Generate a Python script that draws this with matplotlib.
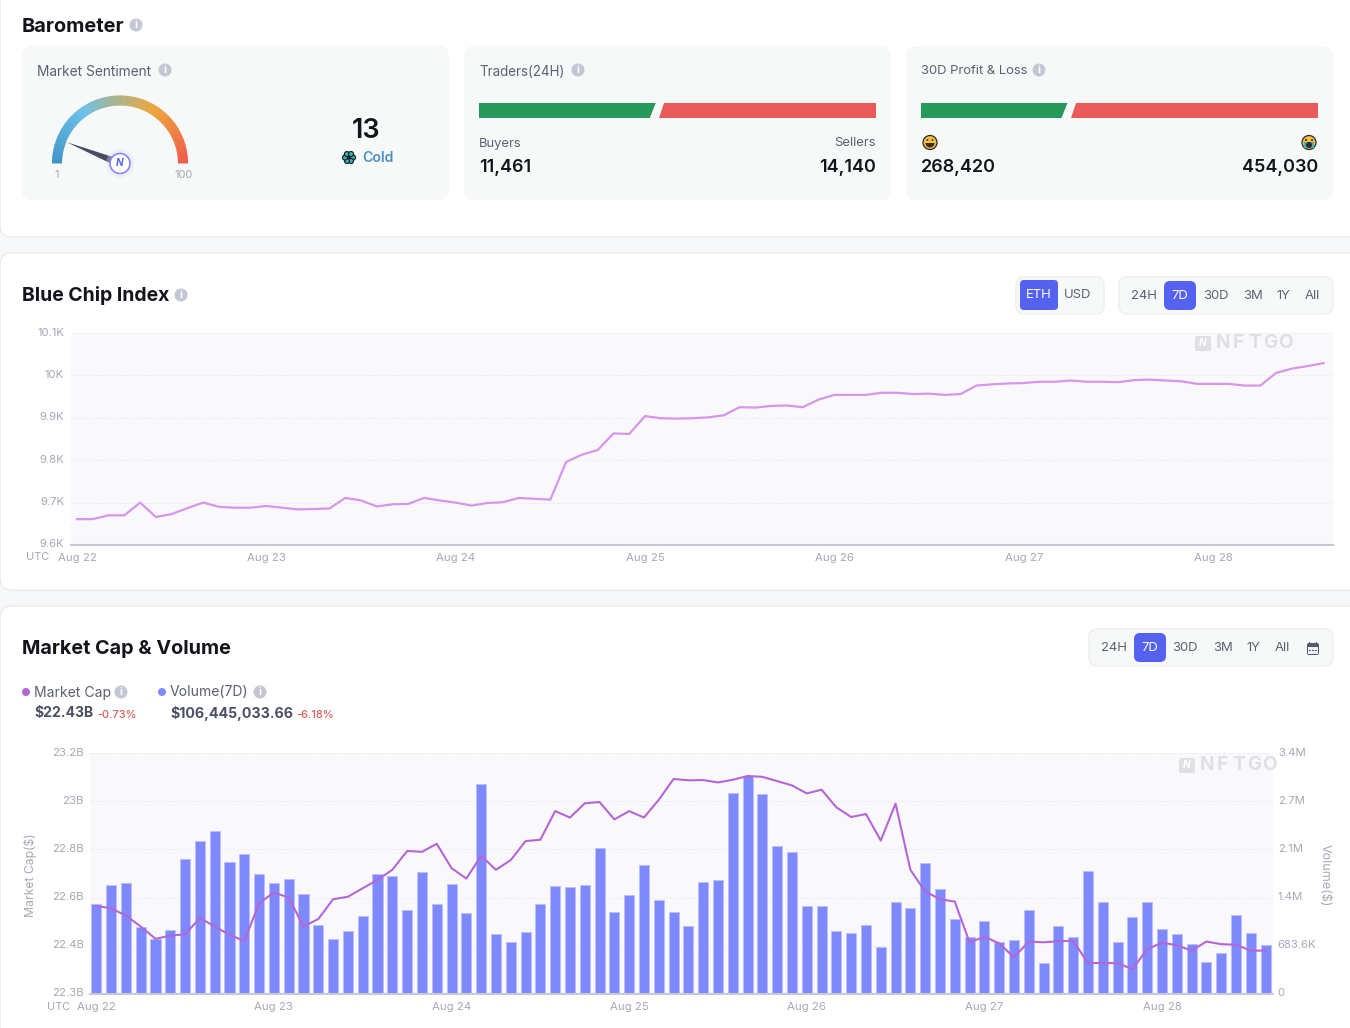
import numpy as np
import matplotlib
matplotlib.use('Agg')
import matplotlib.pyplot as plt
from matplotlib.colors import LinearSegmentedColormap
from matplotlib.patches import Circle, FancyBboxPatch, Polygon, Rectangle, Wedge
from matplotlib.transforms import ScaledTranslation

plt.rcParams['font.family'] = ['Inter', 'DejaVu Sans']

# data
dayLabels = ['Aug 22', 'Aug 23', 'Aug 24', 'Aug 25', 'Aug 26', 'Aug 27', 'Aug 28']
sentiment = 13
traders = [11461, 14140]
profitLoss = [268420, 454030]

blueChip = [9661, 9661, 9670, 9670, 9700, 9666, 9673, 9687, 9700, 9690,
            9688, 9688, 9692, 9688, 9684, 9685, 9686, 9711, 9705, 9691,
            9696, 9697, 9711, 9705, 9700, 9693, 9699, 9701, 9711, 9709,
            9707, 9796, 9813, 9824, 9863, 9862, 9904, 9899, 9898, 9899,
            9901, 9906, 9925, 9924, 9928, 9929, 9925, 9943, 9954, 9954,
            9954, 9959, 9959, 9956, 9957, 9954, 9956, 9976, 9979, 9981,
            9982, 9985, 9985, 9988, 9985, 9985, 9984, 9989, 9990, 9988,
            9986, 9980, 9980, 9980, 9976, 9976, 10006, 10016, 10022, 10029]
blueTicks = [9600, 9700, 9800, 9900, 10000, 10100]
blueTickLabels = ['9.6K', '9.7K', '9.8K', '9.9K', '10K', '10.1K']

volumeK = [1283, 1543, 1581, 956, 781, 914, 1917, 2168, 2315, 1870,
           1984, 1709, 1572, 1628, 1425, 980, 786, 890, 1103, 1704,
           1671, 1198, 1728, 1273, 1567, 1150, 2973, 852, 743, 885,
           1273, 1529, 1520, 1548, 2064, 1160, 1401, 1832, 1330, 1169,
           970, 1595, 1614, 2850, 3096, 2840, 2092, 2021, 1255, 1245,
           895, 871, 975, 672, 1311, 1221, 1865, 1486, 1060, 810,
           1032, 739, 762, 1198, 440, 970, 805, 1747, 1302, 734,
           1089, 1311, 923, 857, 705, 450, 587, 1117, 866, 696]
marketCapB = [22.629, 22.620, 22.593, 22.552, 22.506, 22.518, 22.523, 22.584, 22.552, 22.521,
              22.498, 22.639, 22.679, 22.660, 22.552, 22.580, 22.654, 22.663, 22.695, 22.726,
              22.764, 22.834, 22.831, 22.861, 22.770, 22.731, 22.816, 22.764, 22.800, 22.871,
              22.876, 22.983, 22.959, 23.012, 23.017, 22.952, 22.983, 22.959, 23.025, 23.103,
              23.098, 23.099, 23.090, 23.100, 23.114, 23.111, 23.095, 23.079, 23.049, 23.063,
              22.997, 22.961, 22.972, 22.873, 23.011, 22.764, 22.683, 22.654, 22.645, 22.493,
              22.514, 22.489, 22.437, 22.496, 22.493, 22.497, 22.499, 22.415, 22.416, 22.415,
              22.393, 22.467, 22.492, 22.482, 22.462, 22.496, 22.486, 22.484, 22.462, 22.462]
capTicks = [22.3, 22.48, 22.66, 22.84, 23.02, 23.2]
capTickLabels = ['22.3B', '22.4B', '22.6B', '22.8B', '23B', '23.2B']
volTicks = [0, 683.6, 1367.2, 2050.8, 2734.4, 3418]
volTickLabels = ['0', '683.6K', '1.4M', '2.1M', '2.7M', '3.4M']

rangeNames = ['24H', '7D', '30D', '3M', '1Y', 'All']

# colours
pageColor = '#f7f8f9'
cardColor = '#f7f9f9'
plotColor = '#f9f9fb'
gridColor = '#ecedf1'
accent = '#5562f0'
dark = '#14151c'
grey = '#5d6072'
tickColor = '#a5a8b6'
barColor = '#7e8afb'
capColor = '#b566d6'
chipColor = '#d795ec'
markColor = '#e0e0e4'

W, H = 1350, 1028
fig = plt.figure(figsize=(W / 100, H / 100), dpi=100, facecolor=pageColor)


# whole figure axes working in pixels, y downwards
def pixelAxes(zorder):
    a = fig.add_axes([0, 0, 1, 1], zorder=zorder)
    a.set_xlim(0, W)
    a.set_ylim(H, 0)
    a.axis('off')
    return a


bg = pixelAxes(0)
front = pixelAxes(5)


def txt(x, y, s, px=14, color=dark, ha='left', weight='normal', ax=None, **kw):
    ax = bg if ax is None else ax
    return ax.text(x, y + 1.5, s, fontsize=px * 0.72, color=color, ha=ha, va='center',
                   fontweight=weight, **kw)


def box(x0, y0, x1, y1, r, fc, ec='none', zorder=1, ax=None):
    ax = bg if ax is None else ax
    p = FancyBboxPatch((x0 + r, y0 + r), x1 - x0 - 2 * r, y1 - y0 - 2 * r,
                       boxstyle='round,pad=%d,rounding_size=%d' % (r, r),
                       fc=fc, ec=ec, lw=0.8, zorder=zorder)
    ax.add_patch(p)


def infoIcon(x, y, r=6.5):
    bg.add_patch(Circle((x, y), r, fc='#c4c6d3', ec='none', zorder=3))
    bg.text(x, y, 'i', fontsize=r * 1.15, color='white', ha='center', va='center',
            fontweight='bold', zorder=4)


def rangeGroup(x0, x1, y0, y1, labelX, activeX):
    box(x0, y0, x1, y1, 8, cardColor, '#e9ebee', zorder=2)
    box(activeX[0], y0 + 4, activeX[1], y1 - 4, 6, accent, zorder=3)
    for name, x in zip(rangeNames, labelX):
        color = 'white' if name == '7D' else grey
        txt(x, (y0 + y1) / 2 - 1, name, px=13, color=color, ha='center', zorder=4)


def watermark(x, y):
    box(x, y - 7, x + 16, y + 8, 2, markColor, ax=front)
    txt(x + 8, y - 1, 'N', px=10, color='white', ha='center', weight='bold', style='italic', ax=front)
    for i, letter in enumerate('NFTGO'):
        txt(x + 28 + i * 15.6, y - 1, letter, px=19, color=markColor, ha='center', weight='bold', ax=front)


def axesFromPixels(left, top, right, bottom):
    return fig.add_axes([left / W, 1 - bottom / H, (right - left) / W, (bottom - top) / H])


def styleAxis(ax):
    ax.set_facecolor(plotColor)
    for side in ['top', 'left', 'right']:
        ax.spines[side].set_visible(False)
    ax.spines['bottom'].set_color('#c8c9d3')
    ax.spines['bottom'].set_linewidth(1.5)
    ax.tick_params(length=0, labelsize=8.2, labelcolor=tickColor)
    ax.grid(axis='y', color=gridColor, lw=0.7, ls=(0, (3, 2)))
    ax.set_axisbelow(True)


# y tick labels sit slightly above their grid lines
def raiseLabels(ax):
    shift = ScaledTranslation(0, 1.5 / 100, fig.dpi_scale_trans)
    for label in ax.get_yticklabels():
        label.set_transform(label.get_transform() + shift)


# section cards
for cardTop, cardBottom in [(-30, 237), (253, 590), (606, 1060)]:
    box(0, cardTop, W + 30, cardBottom, 12, 'white', '#e8e9ec', zorder=0.5)

# Barometer
txt(22, 25, 'Barometer', px=20, weight='bold')
infoIcon(136, 25)
for x0 in [22, 464, 906]:
    box(x0, 46, x0 + 427, 200, 10, cardColor)

txt(37, 70, 'Market Sentiment', px=13.7, color=grey)
infoIcon(165, 70)
txt(479, 70, 'Traders(24H)', px=13.4, color=grey)
infoIcon(578, 70)
txt(921, 70, '30D Profit & Loss', px=13, color=grey)
infoIcon(1039, 70)

# gauge
cx, cy = 120, 163.5
gaugeMap = LinearSegmentedColormap.from_list(
    'gauge', [(0, '#3f95c4'), (0.3, '#6cc0ea'), (0.48, '#a9b48c'), (0.68, '#eda63b'), (1, '#ee5a4b')])
for i in range(180):
    bg.add_patch(Wedge((cx, cy), 68, 180 + i, 181.5 + i if i < 179 else 360, width=10,
                       fc=gaugeMap(i / 179), ec='none', zorder=2))
angle = np.pi * (sentiment - 1) / 99
tip = (cx - 57.5 * np.cos(angle), cy - 57.5 * np.sin(angle))
nx, ny = np.sin(angle) * 4, -np.cos(angle) * 4
bg.add_patch(Polygon([tip, (cx + nx, cy + ny), (cx - nx, cy - ny)], fc='#4a4c66', ec='none', zorder=3))
bg.add_patch(Circle((cx, cy), 14, fc='#d9dcff', ec='none', alpha=0.35, zorder=3))
bg.add_patch(Circle((cx, cy), 10, fc='white', ec='#8f86ea', lw=1.2, zorder=4))
txt(cx, cy - 1.5, 'N', px=10, color=accent, ha='center', weight='bold', style='italic', zorder=5)
txt(57, 174, '1', px=11, color=tickColor, ha='center')
txt(184, 174, '100', px=11, color=tickColor, ha='center')

txt(366, 129, str(sentiment), px=27, ha='center', weight='semibold')
for a in np.arange(0, 360, 60):
    sx = 349 + 4 * np.cos(np.radians(a))
    sy = 157.5 + 4 * np.sin(np.radians(a))
    bg.add_patch(Circle((sx, sy), 2.5, fc='#3fb6b8', ec='#15252c', lw=0.9, zorder=3))
bg.add_patch(Circle((349, 157.5), 1.6, fc='#15252c', ec='none', zorder=4))
txt(362, 156, 'Cold', px=14, color='#4a8fc0', weight='semibold')


# split bars
def splitBar(x0, x1, values):
    split = x0 + (x1 - x0) * values[0] / sum(values)
    bg.add_patch(Polygon([(x0, 103), (split - 1, 103), (split - 7, 118), (x0, 118)],
                         fc='#27995c', ec='none', zorder=2))
    bg.add_patch(Polygon([(split + 7, 103), (x1, 103), (x1, 118), (split + 2, 118)],
                         fc='#ea5a5b', ec='none', zorder=2))


splitBar(479, 876, traders)
splitBar(921, 1318, profitLoss)

txt(479, 142, 'Buyers', px=13, color=grey)
txt(876, 142, 'Sellers', px=13, color=grey, ha='right')
txt(479, 166, format(traders[0], ','), px=18, weight='semibold')
txt(876, 166, format(traders[1], ','), px=18, ha='right', weight='semibold')
txt(921, 166, format(profitLoss[0], ','), px=18, weight='semibold')
txt(1318, 166, format(profitLoss[1], ','), px=18, ha='right', weight='semibold')

# emoji faces
bg.add_patch(Circle((930, 142.5), 7, fc='#f6bd41', ec='#2b2b2b', lw=0.9, zorder=3))
bg.add_patch(Wedge((930, 143), 4.5, 0, 180, fc='#3a2a1c', ec='none', zorder=4))
for ex in [927.5, 932.5]:
    bg.add_patch(Circle((ex, 140), 0.9, fc='#2b2b2b', ec='none', zorder=4))
bg.add_patch(Circle((1309, 142.5), 7, fc='#f6bd41', ec='#2b2b2b', lw=0.9, zorder=3))
bg.add_patch(Rectangle((1304, 142), 10, 6, fc='#3fb6b8', ec='none', zorder=4))
bg.add_patch(Circle((1309, 145), 3, fc='#2b2b2b', ec='none', zorder=5))
for ex in [1306, 1312]:
    bg.add_patch(Circle((ex, 140), 1, fc='#2b2b2b', ec='none', zorder=5))

# Blue Chip Index
txt(22, 294, 'Blue Chip Index', px=19.4, weight='bold')
infoIcon(181, 295)
box(1016, 277, 1104, 314, 8, cardColor, '#e9ebee', zorder=2)
box(1020, 280, 1058, 310, 4, accent, zorder=3)
txt(1039, 294, 'ETH', px=13, color='white', ha='center', zorder=4)
txt(1078, 294, 'USD', px=13, color=grey, ha='center', zorder=4)
rangeGroup(1119, 1333, 277, 314, [1144, 1180, 1216, 1253, 1283, 1312], (1164, 1196))

ax1 = axesFromPixels(71, 333, 1333, 545)
styleAxis(ax1)
ax1.plot(np.arange(len(blueChip)), blueChip, color=chipColor, lw=1.6, solid_joinstyle='round')
ax1.set_xlim(-0.38, 79.6)
ax1.set_ylim(9600, 10100)
ax1.set_yticks(blueTicks, blueTickLabels)
ax1.set_xticks(np.arange(len(dayLabels)) * 12, dayLabels)
ax1.tick_params(axis='y', pad=5)
ax1.tick_params(axis='x', pad=6)
raiseLabels(ax1)
txt(38, 556, 'UTC', px=11, color=tickColor, ha='center')

# Market Cap & Volume
txt(22, 647, 'Market Cap & Volume', px=19.8, weight='bold')
rangeGroup(1089, 1333, 629, 666, [1114, 1150, 1185, 1223, 1253, 1282], (1134, 1166))
# calendar icon
box(1307, 643, 1319, 655, 2, '#55586e', zorder=4)
bg.add_patch(Rectangle((1308.3, 647), 9.4, 6.7, fc='#eef0f4', ec='none', zorder=5))
for kx in [1310, 1313, 1316]:
    bg.add_patch(Rectangle((kx - 0.6, 649.5), 1.2, 1.2, fc='#55586e', ec='none', zorder=6))
for kx in [1309.5, 1316.5]:
    bg.add_patch(Rectangle((kx - 0.6, 641.5), 1.2, 3, fc='#55586e', ec='none', zorder=5))

bg.add_patch(Circle((26, 692), 4, fc=capColor, ec='none', zorder=3))
txt(34, 691, 'Market Cap', px=14, color=grey)
infoIcon(121, 692)
txt(34, 712, '$22.43B', px=14, color='#4b4f63', weight='bold')
txt(97, 714, '-0.73%', px=11, color='#e05a5a', weight='medium')
bg.add_patch(Circle((162, 692), 4, fc=barColor, ec='none', zorder=3))
txt(170, 691, 'Volume(7D)', px=14, color=grey)
infoIcon(260, 692)
txt(170, 712, '$106,445,033.66', px=14.2, color='#4b4f63', weight='bold')
txt(296, 714, '-6.18%', px=11, color='#e05a5a', weight='medium')

ax2 = axesFromPixels(90, 753, 1273, 994)
styleAxis(ax2)
ax2.bar(np.arange(len(volumeK)), volumeK, width=0.68, color=barColor, edgecolor='#b9c0fc', lw=0.6)
ax2.set_xlim(-0.426, 79.5)
ax2.set_ylim(0, 3418)
ax2.set_yticks(volTicks, volTickLabels)
ax2.set_xticks(np.arange(len(dayLabels)) * 12, dayLabels)
ax2.tick_params(axis='x', pad=6)

# twinx moves the ticks of both axes, so set the sides after it
ax3 = ax2.twinx()
ax2.yaxis.tick_right()
ax2.tick_params(axis='y', length=0, pad=3.5)
ax3.plot(np.arange(len(marketCapB)), marketCapB, color=capColor, lw=1.5, solid_joinstyle='round')
ax3.set_ylim(22.3, 23.2)
ax3.yaxis.tick_left()
ax3.set_yticks(capTicks, capTickLabels)
ax3.tick_params(axis='y', length=0, pad=4.5, labelsize=8.2, labelcolor=tickColor)
for side in ['top', 'left', 'right', 'bottom']:
    ax3.spines[side].set_visible(False)
raiseLabels(ax2)
raiseLabels(ax3)

txt(59, 1005, 'UTC', px=11, color=tickColor, ha='center')
txt(30, 874, 'Market Cap($)', px=12.2, color=tickColor, ha='center', rotation=90)
txt(1325, 874, 'Volume($)', px=12.5, color=tickColor, ha='center', rotation=270)

# watermarks go above the plots
watermark(1195, 343)
watermark(1179, 765)

fig.savefig('out.png', dpi=100, facecolor=pageColor)
